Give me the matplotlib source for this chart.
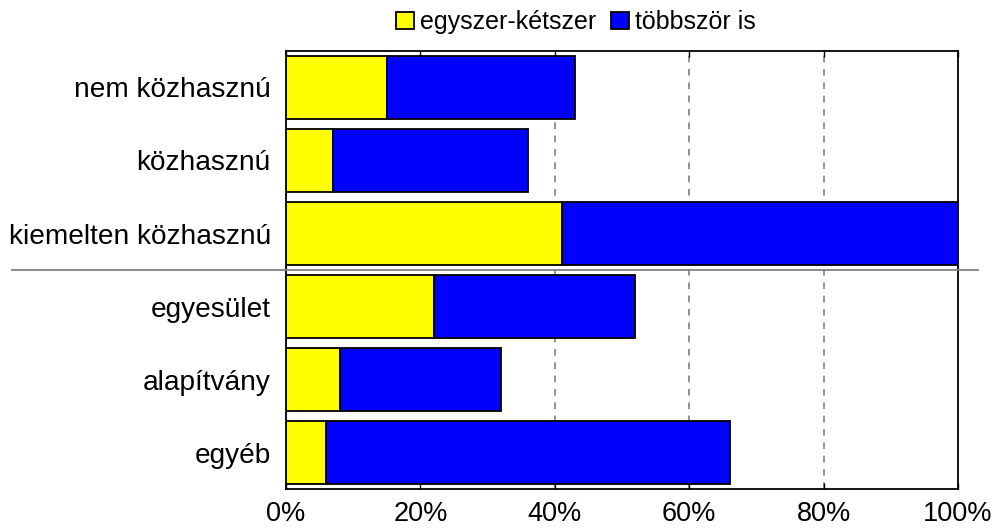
import matplotlib.pyplot as plt
from matplotlib.lines import Line2D

plt.rcParams['font.family'] = ['Liberation Sans', 'DejaVu Sans']

categories = ['nem közhasznú', 'közhasznú', 'kiemelten közhasznú',
              'egyesület', 'alapítvány', 'egyéb']
egyszer = [15, 7, 41, 22, 8, 6]
tobbszor = [28, 29, 59, 30, 24, 60]
xticks = [0, 20, 40, 60, 80, 100]
xtick_labels = ['0%', '20%', '40%', '60%', '80%', '100%']

fig = plt.figure(figsize=(9.97, 5.29), dpi=100)
ax = fig.add_axes([0.2869, 0.0756, 0.674, 0.828])

ypos = list(range(len(categories)))
ax.barh(ypos, egyszer, height=0.86, color='#FFFF00', edgecolor='black',
        linewidth=1.3, label='egyszer-kétszer', zorder=3)
ax.barh(ypos, tobbszor, left=egyszer, height=0.86, color='#0000FF',
        edgecolor='black', linewidth=1.3, label='többször is', zorder=3)

ax.set_xlim(0, 100)
ax.set_ylim(len(categories) - 0.5, -0.5)
ax.set_yticks(ypos)
ax.set_yticklabels(categories, fontsize=20.2)
ax.set_xticks(xticks)
ax.set_xticklabels(xtick_labels, fontsize=19.5)
ax.tick_params(axis='y', length=0, pad=11)
ax.tick_params(axis='x', direction='in', length=4, width=1, top=True,
               pad=8.5)

for x in [40, 60, 80]:
    ax.axvline(x, color='#808080', linestyle=(0, (4, 4)), linewidth=1.2,
               zorder=1)

for s in ax.spines.values():
    s.set_linewidth(1.3)

# separator between the two groups
fig.add_artist(Line2D([12 / 997, 978 / 997], [1 - 270 / 529, 1 - 270 / 529],
                      color='#808080', linewidth=1.3))

ax.legend(loc='center', bbox_to_anchor=(576 / 997, 1 - 22 / 529),
          bbox_transform=fig.transFigure, ncol=2, frameon=False, fontsize=18,
          handlelength=0.7, handleheight=0.65, handletextpad=0.25,
          columnspacing=0.6, borderpad=0)

fig.savefig('out.png', dpi=100)
